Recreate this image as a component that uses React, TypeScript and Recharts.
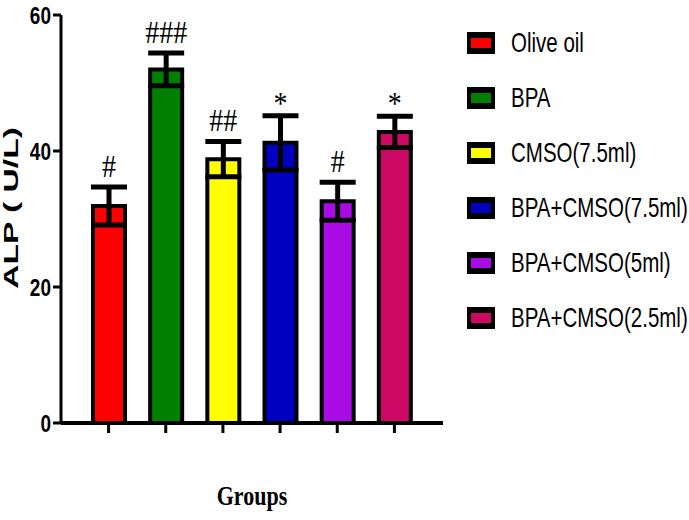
import React from "react";
import {
  BarChart,
  Bar,
  Cell,
  XAxis,
  YAxis,
  ErrorBar,
  LabelList,
} from "recharts";

const groups = [
  "Olive oil",
  "BPA",
  "CMSO(7.5ml)",
  "BPA+CMSO(7.5ml)",
  "BPA+CMSO(5ml)",
  "BPA+CMSO(2.5ml)",
];
const means = [31.9, 52, 38.8, 41.2, 32.6, 42.8];
const errs = [2.8, 2.4, 2.6, 4, 2.8, 2.3];
const marks = ["#", "###", "##", "*", "#", "*"];
const colors = ["#FF0000", "#008000", "#FFFF00", "#0000C0", "#A90BE4", "#CC0764"];
const yTicks = [0, 20, 40, 60];

const sans = "'Liberation Sans', Arial, sans-serif";
const serif = "'Liberation Serif', 'Times New Roman', serif";

const data = groups.map((name, i) => ({ name, value: means[i], err: errs[i] }));

function MarkLabel(props: any) {
  const vb = props.viewBox || props;
  const i = props.index;
  if (i === undefined || vb.y === undefined) return null;
  const { x, y, width, height } = vb;
  const pxPerUnit = height / means[i];
  const capY = y - pxPerUnit * errs[i];
  const mark = marks[i];
  const lift = mark.startsWith("*") ? 2 : 10;
  return (
    <text
      transform={`translate(${x + width / 2},${capY - lift}) scale(1,1.12)`}
      textAnchor="middle"
      fontFamily={serif}
      fontSize={28}
      fill="#000"
    >
      {mark}
    </text>
  );
}

function YTick(props: any) {
  const { x, y, payload } = props;
  return (
    <g transform={`translate(${x},${y})`}>
      <text
        transform="scale(1,1.25)"
        textAnchor="end"
        dy="0.36em"
        fontFamily={sans}
        fontWeight="bold"
        fontSize={19}
        fill="#000"
      >
        {payload.value}
      </text>
    </g>
  );
}

function YLabel() {
  return (
    <text
      transform="translate(11,208) rotate(-90) scale(1.6,1)"
      textAnchor="middle"
      dominantBaseline="central"
      fontFamily={sans}
      fontWeight="bold"
      fontSize={21}
      fill="#000"
      style={{ whiteSpace: "pre" }}
    >
      {"ALP ( U/L)"}
    </text>
  );
}

function XLabel(props: any) {
  const vb = props.viewBox;
  if (!vb) return null;
  return (
    <text
      transform={`translate(${vb.x + vb.width / 2},${vb.y + 82}) scale(1,1.25)`}
      textAnchor="middle"
      fontFamily={serif}
      fontWeight="bold"
      fontSize={22}
      fill="#000"
    >
      Groups
    </text>
  );
}

function Legend() {
  return (
    <div style={{ position: "absolute", left: 467, top: 0 }}>
      {groups.map((g, i) => (
        <div
          key={g}
          style={{
            position: "absolute",
            top: 43 + i * 55 - 15,
            height: 30,
            display: "flex",
            alignItems: "center",
            whiteSpace: "nowrap",
          }}
        >
          <div
            style={{
              width: 20,
              height: 10,
              borderStyle: "solid",
              borderColor: "#000",
              borderWidth: "6px 4px",
              background: colors[i],
            }}
          />
          <span
            style={{
              display: "inline-block",
              marginLeft: 16,
              fontFamily: sans,
              fontSize: 20.5,
              color: "#000",
              transform: "scaleY(1.35)",
            }}
          >
            {g}
          </span>
        </div>
      ))}
    </div>
  );
}

export default function App() {
  return (
    <div
      style={{
        position: "absolute",
        left: 0,
        top: 0,
        width: 689,
        height: 520,
        background: "#fff",
        overflow: "hidden",
      }}
    >
      <BarChart
        width={689}
        height={520}
        data={data}
        margin={{ top: 15, right: 246, left: 0, bottom: 0 }}
      >
        <XAxis
          dataKey="name"
          tickFormatter={() => ""}
          tickSize={10}
          tickLine={{ stroke: "#000", strokeWidth: 3 }}
          axisLine={{ stroke: "#000", strokeWidth: 4 }}
          padding={{ left: 19, right: 20 }}
          height={97}
          label={<XLabel />}
        />
        <YAxis
          domain={[0, 60]}
          ticks={yTicks}
          width={61}
          tickSize={8}
          tickLine={{ stroke: "#000", strokeWidth: 3 }}
          axisLine={{ stroke: "#000", strokeWidth: 3 }}
          tick={<YTick />}
          label={<YLabel />}
        />
        <Bar
          dataKey="value"
          barSize={32}
          stroke="#000"
          strokeWidth={4}
          isAnimationActive={false}
        >
          {data.map((d, i) => (
            <Cell key={d.name} fill={colors[i]} />
          ))}
          <ErrorBar
            dataKey="err"
            direction="y"
            width={18}
            stroke="#000"
            strokeWidth={5}
            isAnimationActive={false}
          />
          <LabelList dataKey="value" content={<MarkLabel />} />
        </Bar>
      </BarChart>
      <Legend />
    </div>
  );
}
